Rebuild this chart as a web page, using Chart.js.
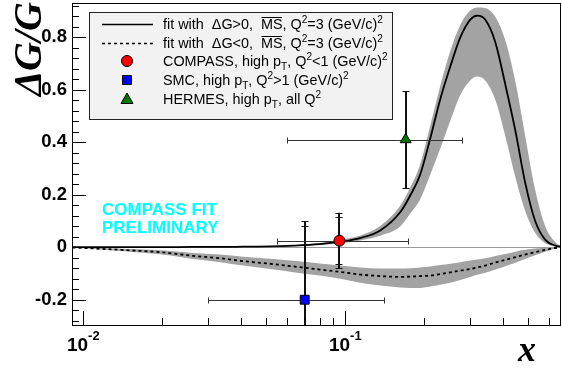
<!DOCTYPE html>
<html><head><meta charset="utf-8">
<script src="https://cdn.jsdelivr.net/npm/chart.js@4.4.0/dist/chart.umd.min.js"></script>
<style>html,body{margin:0;padding:0;background:#fff}#wrap{width:562px;height:369px;position:relative}</style>
</head><body><div id="wrap"><canvas id="c" width="562" height="369"></canvas></div>
<script>
// ---- data ----
const xGrid     = [0.0091,0.0116,0.0151,0.0197,0.0263,0.0333,0.0408,0.0517,0.0633,0.080,0.0957,0.114,0.136,0.162,0.177,0.193,0.211,0.230,0.252,0.275,0.300,0.319,0.342,0.374,0.408,0.446,0.486,0.531,0.580,0.633,0.666];
const fitPos    = [0,0,0,0,0.001,0.001,0.002,0.003,0.006,0.012,0.021,0.035,0.064,0.133,0.197,0.276,0.414,0.561,0.69,0.80,0.867,0.882,0.867,0.78,0.62,0.443,0.246,0.099,0.028,0.006,0.002];
const fitPosUp  = [0.001,0.001,0.001,0.001,0.002,0.002,0.003,0.005,0.008,0.016,0.028,0.045,0.081,0.158,0.227,0.315,0.463,0.611,0.749,0.847,0.901,0.913,0.911,0.877,0.788,0.63,0.424,0.217,0.079,0.02,0.003];
const fitPosLo  = [0,0,0,0,0,0,0.001,0.002,0.004,0.009,0.015,0.026,0.044,0.079,0.128,0.182,0.276,0.374,0.483,0.581,0.635,0.65,0.635,0.561,0.424,0.266,0.138,0.054,0.015,0.003,0.001];
const fitNeg    = [-0.001,-0.006,-0.012,-0.019,-0.033,-0.042,-0.053,-0.063,-0.073,-0.085,-0.094,-0.104,-0.110,-0.113,-0.112,-0.110,-0.108,-0.102,-0.096,-0.089,-0.083,-0.077,-0.070,-0.058,-0.048,-0.038,-0.028,-0.019,-0.010,-0.003,0];
const fitNegUp  = [0,-0.003,-0.007,-0.012,-0.022,-0.028,-0.036,-0.044,-0.052,-0.062,-0.070,-0.077,-0.081,-0.081,-0.080,-0.077,-0.073,-0.068,-0.063,-0.057,-0.051,-0.047,-0.042,-0.033,-0.026,-0.017,-0.010,-0.005,-0.002,0,0];
const fitNegLo  = [-0.001,-0.009,-0.017,-0.027,-0.045,-0.057,-0.070,-0.083,-0.095,-0.108,-0.120,-0.135,-0.146,-0.153,-0.155,-0.155,-0.150,-0.143,-0.135,-0.125,-0.113,-0.105,-0.097,-0.085,-0.072,-0.059,-0.045,-0.031,-0.017,-0.006,0];

const ptNames  = ['COMPASS','SMC','HERMES'];
const ptX      = [0.095, 0.070, 0.170];
const ptY      = [0.025, -0.200, 0.410];
const ptStat   = [0.089, 0.280, 0.185];
const ptTot    = [0.106, 0.300, 0.185];
const ptXlo    = [0.055, 0.030, 0.060];
const ptXhi    = [0.174, 0.140, 0.280];
const ptColor  = ['#ff0000','#0000ff','#007700'];
const ptStyle  = ['circle','rect','triangle'];

const yTickVals   = [-0.2, 0, 0.2, 0.4, 0.6, 0.8];
const yTickLabels = ['-0.2','0','0.2','0.4','0.6','0.8'];
const xTickVals   = [0.01, 0.1];
const xTickExps   = ['-2','-1'];

const X_MIN = 0.009056, X_MAX = 0.6658, Y_MIN = -0.3, Y_MAX = 0.93;
const BAND = '#a3a3a3';

const pts = a => xGrid.map((x,i)=>({x:x,y:a[i]}));

function drawRich(ctx, segs, x, y, F, fam, weight, color){
  ctx.save();
  ctx.fillStyle=color; ctx.strokeStyle=color; ctx.textBaseline='alphabetic'; ctx.textAlign='left';
  for(const [t,k] of segs){
    let s=F, dy=0;
    if(k==='sup'){s=F*0.7; dy=-F*0.45;}
    if(k==='sub'){s=F*0.7; dy=F*0.28;}
    ctx.font = weight+' '+s+'px '+fam;
    ctx.fillText(t, x, y+dy);
    const w = ctx.measureText(t).width;
    if(k==='ov'){
      ctx.lineWidth=1;
      const oy = Math.round(y-F*0.86)+0.5;
      ctx.beginPath(); ctx.moveTo(x+0.5, oy); ctx.lineTo(x+w-0.5, oy); ctx.stroke();
    }
    x += w;
  }
  ctx.restore();
}

const legendRows = [
  {type:'line', dash:[], segs:[['fit with  \u0394G>0,  ','n'],['MS','ov'],[', Q','n'],['2','sup'],['=3 (GeV/c)','n'],['2','sup']]},
  {type:'line', dash:[3,3], segs:[['fit with  \u0394G<0,  ','n'],['MS','ov'],[', Q','n'],['2','sup'],['=3 (GeV/c)','n'],['2','sup']]},
  {type:'pt', i:0, segs:[['COMPASS, high p','n'],['T','sub'],[', Q','n'],['2','sup'],['<1 (GeV/c)','n'],['2','sup']]},
  {type:'pt', i:1, segs:[['SMC, high p','n'],['T','sub'],[', Q','n'],['2','sup'],['>1 (GeV/c)','n'],['2','sup']]},
  {type:'pt', i:2, segs:[['HERMES, high p','n'],['T','sub'],[', all Q','n'],['2','sup']]}
];

function drawMarker(ctx, i, x, y){
  ctx.save();
  ctx.fillStyle=ptColor[i]; ctx.strokeStyle='#000'; ctx.lineWidth=1;
  ctx.beginPath();
  if(ptStyle[i]==='circle'){ ctx.arc(x,y,5.5,0,Math.PI*2); }
  else if(ptStyle[i]==='rect'){ ctx.rect(x-4.5,y-4.5,9,9); }
  else { ctx.moveTo(x,y-6); ctx.lineTo(x+6,y+4.5); ctx.lineTo(x-6,y+4.5); ctx.closePath(); }
  ctx.fill(); ctx.stroke();
  ctx.restore();
}

const SANS = '"Liberation Sans", Arial, sans-serif';

const frameAndText = {
  id:'frameAndText',
  beforeDatasetsDraw(chart){
    const {ctx, chartArea:a, scales:{y}} = chart;
    ctx.save();
    ctx.strokeStyle='#9a9a9a'; ctx.lineWidth=1;
    const y0 = Math.round(y.getPixelForValue(0))+0.5;
    ctx.beginPath(); ctx.moveTo(a.left,y0); ctx.lineTo(a.right,y0); ctx.stroke();
    ctx.restore();
  },
  beforeDatasetDraw(chart, args){
    const idx = args.index;
    if(idx<6) return;
    const i = idx-6;
    const {ctx, chartArea:a, scales:{x,y}} = chart;
    ctx.save();
    ctx.beginPath(); ctx.rect(a.left,a.top,a.right-a.left,a.bottom-a.top); ctx.clip();
    const px = x.getPixelForValue(ptX[i]), py = y.getPixelForValue(ptY[i]);
    const cy = Math.round(py)+0.5;
    ctx.strokeStyle='#333'; ctx.lineWidth=1;
    const xl = Math.round(x.getPixelForValue(ptXlo[i]))+0.5, xr = Math.round(x.getPixelForValue(ptXhi[i]))+0.5;
    ctx.beginPath(); ctx.moveTo(xl,cy); ctx.lineTo(xr,cy);
    ctx.moveTo(xl,cy-3); ctx.lineTo(xl,cy+3); ctx.moveTo(xr,cy-3); ctx.lineTo(xr,cy+3); ctx.stroke();
    ctx.strokeStyle='#111'; ctx.lineWidth=2;
    const yt = y.getPixelForValue(ptY[i]+ptTot[i]), yb = y.getPixelForValue(ptY[i]-ptTot[i]);
    const vx = Math.round(px);
    ctx.beginPath(); ctx.moveTo(vx,yt); ctx.lineTo(vx,yb); ctx.stroke();
    ctx.lineWidth=1.2;
    const caps = [ptTot[i]];
    if(ptStat[i]!==ptTot[i]) caps.push(ptStat[i]);
    ctx.beginPath();
    for(const e of caps){
      for(const s of [1,-1]){
        const yy = Math.round(y.getPixelForValue(ptY[i]+s*e))+0.5;
        ctx.moveTo(vx-3.5,yy); ctx.lineTo(vx+3.5,yy);
      }
    }
    ctx.stroke();
    ctx.restore();
  },
  afterDraw(chart){
    const {ctx, chartArea:a, scales:{x,y}} = chart;
    ctx.save();
    ctx.strokeStyle='#000'; ctx.lineWidth=1;
    ctx.strokeRect(a.left+0.5,a.top+0.5,a.right-a.left-1,a.bottom-a.top-1);
    ctx.beginPath();
    for(let k=-7;k<=23;k++){
      const v=k*0.04; if(v<Y_MIN||v>Y_MAX) continue;
      const yy=Math.round(y.getPixelForValue(v))+0.5;
      const L = (k%5===0)?14:7;
      ctx.moveTo(a.left,yy); ctx.lineTo(a.left+L,yy);
    }
    for(const dec of [0.01,0.1]){
      for(let m=1;m<=9;m++){
        const v=m*dec; if(v<X_MIN||v>X_MAX) continue;
        const xx=Math.round(x.getPixelForValue(v))+0.5;
        const L=(m===1)?15:8;
        ctx.moveTo(xx,a.bottom); ctx.lineTo(xx,a.bottom-L);
      }
    }
    ctx.stroke();
    // y labels
    ctx.fillStyle='#000'; ctx.font='bold 18.5px '+SANS;
    ctx.textAlign='right'; ctx.textBaseline='middle';
    yTickVals.forEach((v,i)=>ctx.fillText(yTickLabels[i], 67, y.getPixelForValue(v)));
    // x labels 10^n
    xTickVals.forEach((v,i)=>{
      const xx=x.getPixelForValue(v);
      ctx.font='bold 19px '+SANS;
      const w10=ctx.measureText('10').width;
      ctx.font='bold 13px '+SANS;
      const we=ctx.measureText(xTickExps[i]).width;
      const x0 = xx-(w10+we)/2;
      ctx.textAlign='left'; ctx.textBaseline='alphabetic';
      ctx.font='bold 19px '+SANS;
      ctx.fillText('10', x0, 351);
      ctx.font='bold 13px '+SANS;
      ctx.fillText(xTickExps[i], x0+w10, 340);
    });
    // axis titles
    ctx.font='bold italic 36px "Liberation Serif", "Times New Roman", serif';
    ctx.textAlign='right'; ctx.textBaseline='alphabetic';
    ctx.fillText('x', 536, 361);
    ctx.save();
    ctx.font='bold italic 40px "Liberation Serif", "Times New Roman", serif';
    ctx.translate(41, 2); ctx.rotate(-Math.PI/2);
    ctx.textAlign='right';
    ctx.fillText('\u0394G/G', 0, 0);
    ctx.restore();
    // preliminary
    ctx.fillStyle='#00ffff'; ctx.font='bold 17px '+SANS;
    ctx.textAlign='left'; ctx.textBaseline='alphabetic';
    ctx.fillText('COMPASS FIT', 102, 215);
    ctx.fillText('PRELIMINARY', 102, 233);
    // legend
    const L={l:89,t:12,r:393,b:120};
    ctx.fillStyle='#f2f2f2'; ctx.fillRect(L.l,L.t,L.r-L.l,L.b-L.t);
    ctx.strokeStyle='#222'; ctx.lineWidth=1; ctx.strokeRect(L.l+0.5,L.t+0.5,L.r-L.l-1,L.b-L.t-1);
    const rowY=[24,43,61,80,99];
    legendRows.forEach((r,k)=>{
      const yc=rowY[k];
      if(r.type==='line'){
        ctx.save(); ctx.strokeStyle='#000'; ctx.lineWidth=1.3; ctx.setLineDash(r.dash);
        ctx.beginPath(); ctx.moveTo(102,yc+0.5); ctx.lineTo(153,yc+0.5); ctx.stroke(); ctx.restore();
      } else drawMarker(ctx, r.i, 127, yc);
      drawRich(ctx, r.segs, 163, yc+5, 14.4, SANS, 'normal', '#000');
    });
    ctx.restore();
  }
};

const datasets = [
  {data:pts(fitPosUp), borderWidth:0, pointRadius:0, fill:'+1', backgroundColor:BAND, order:10},
  {data:pts(fitPosLo), borderWidth:0, pointRadius:0, fill:false, order:10},
  {data:pts(fitNegUp), borderWidth:0, pointRadius:0, fill:'+1', backgroundColor:BAND, order:10},
  {data:pts(fitNegLo), borderWidth:0, pointRadius:0, fill:false, order:10},
  {data:pts(fitPos), borderColor:'#000', borderWidth:1.8, pointRadius:0, fill:false, order:5},
  {data:pts(fitNeg), borderColor:'#000', borderWidth:1.8, borderDash:[3,3], pointRadius:0, fill:false, order:5}
];
ptNames.forEach((n,i)=>datasets.push({
  label:n, data:[{x:ptX[i],y:ptY[i]}], showLine:false,
  pointStyle:ptStyle[i], pointRadius:(ptStyle[i]==='circle'?5.5:6.3),
  backgroundColor:ptColor[i], borderColor:'#000', borderWidth:1, order:0
}));

new Chart(document.getElementById('c'), {
  type:'line',
  data:{datasets},
  options:{
    responsive:false, animation:false, devicePixelRatio:1,
    layout:{autoPadding:false, padding:{left:0,right:1,top:3,bottom:0}},
    plugins:{legend:{display:false}, tooltip:{enabled:false}},
    elements:{line:{tension:0.35, cubicInterpolationMode:'monotone'}},
    scales:{
      x:{type:'logarithmic', min:X_MIN, max:X_MAX, grid:{display:false}, border:{display:false}, ticks:{display:false}, afterFit(s){s.height=43;s.paddingLeft=0;s.paddingRight=0;}},
      y:{type:'linear', min:Y_MIN, max:Y_MAX, grid:{display:false}, border:{display:false}, ticks:{display:false}, afterFit(s){s.width=72;s.paddingTop=0;s.paddingBottom=0;}}
    }
  },
  plugins:[frameAndText]
});
</script>
</body></html>
